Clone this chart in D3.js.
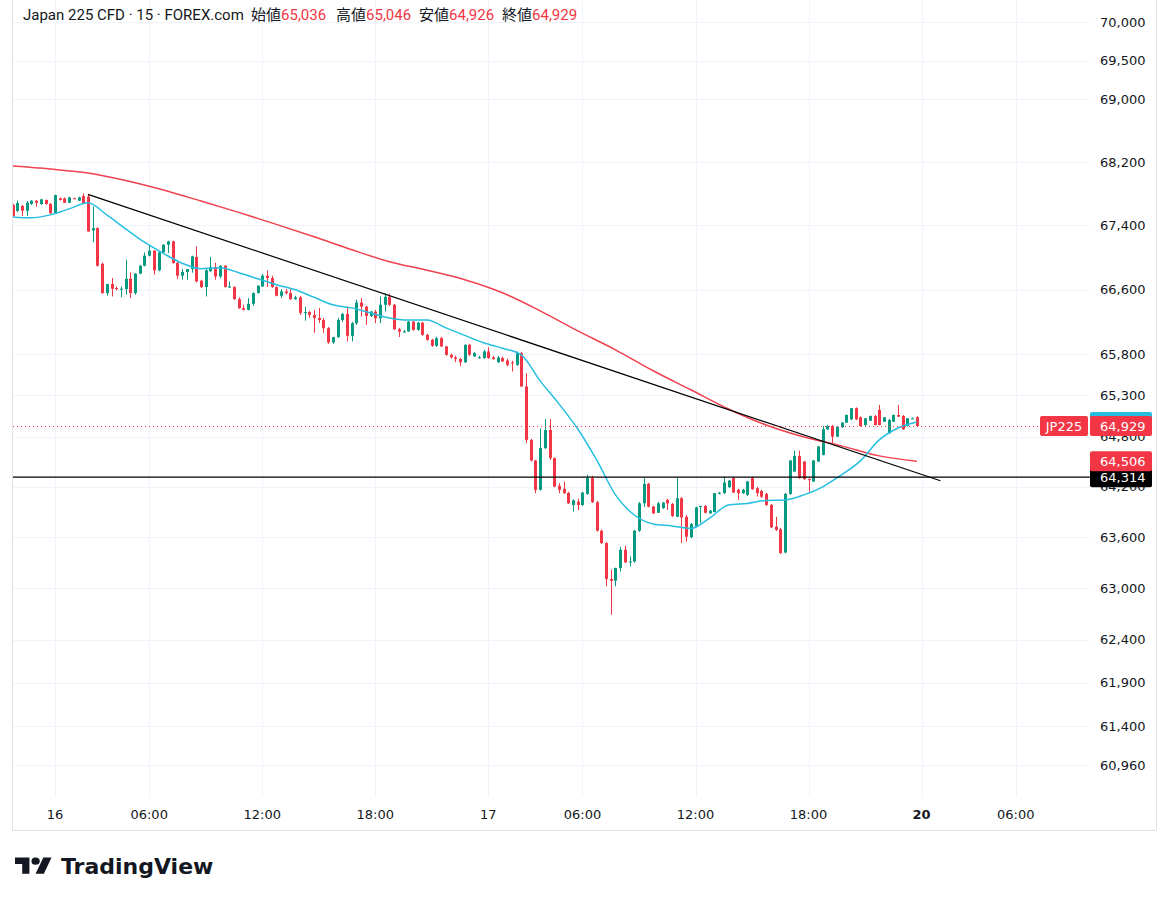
<!doctype html>
<html lang="ja">
<head>
<meta charset="utf-8">
<title>Japan 225 CFD · 15 · FOREX.com</title>
<script src="https://d3js.org/d3.v7.min.js"></script>
<style>
  body { margin: 0; padding: 0; background: #ffffff; }
  svg { display: block; }
</style>
</head>
<body>
<svg id="chart" width="1169" height="906"></svg>
<script>
// 15分足 (始値, 高値, 安値, 終値)
const ohlc = [
  [67656,67669,67507,67519],[67582,67712,67569,67681],[67644,67656,67519,67585],[67585,67706,67519,67685],
  [67669,67719,67656,67710],[67710,67719,67635,67685],[67669,67735,67656,67727],[67719,67725,67663,67669],
  [67669,67681,67544,67553],[67553,67787,67544,67781],[67740,67750,67712,67719],[67740,67750,67681,67685],
  [67685,67760,67681,67752],[67740,67750,67731,67736],[67710,67762,67706,67752],[67769,67802,67669,67678],
  [67762,67790,67320,67324],[67336,67635,67187,67366],[67366,67376,66884,66896],[66921,66934,66547,66556],
  [66556,66672,66523,66668],[66668,66743,66514,66610],[66618,66638,66589,66606],[66604,66638,66506,66610],
  [66606,66971,66535,66734],[66734,66813,66494,66556],[66556,66803,66535,66797],[66797,66903,66791,66896],
  [66896,67062,66888,67021],[67021,67146,67012,67083],[67083,67090,66784,66838],[66838,67075,66826,67062],
  [67062,67164,67058,67158],[67158,67208,67055,67199],[67199,67208,66921,66930],[66930,66946,66731,66772],
  [66772,66855,66722,66818],[66818,66855,66722,66855],[66855,67021,66809,67012],[67005,67137,66690,66701],
  [66709,66722,66618,66631],[66631,66868,66514,66838],[66826,67005,66822,66880],[66880,66934,66722,66763],
  [66763,66903,66741,66896],[66896,66903,66625,66631],[66631,66701,66618,66638],[66631,66641,66473,66481],
  [66481,66504,66363,66369],[66369,66411,66340,66348],[66348,66494,66342,66423],[66423,66566,66398,66556],
  [66556,66653,66553,66647],[66638,66793,66635,66772],[66772,66838,66631,66743],[66743,66772,66622,66631],
  [66631,66641,66516,66523],[66523,66606,66494,66576],[66576,66610,66541,66556],[66556,66618,66473,66481],
  [66481,66523,66473,66504],[66504,66523,66286,66311],[66311,66389,66215,66323],[66323,66336,66249,66286],
  [66286,66348,66065,66249],[66249,66373,66187,66224],[66224,66249,66065,66123],[66123,66138,65931,65947],
  [65947,66016,65931,66013],[66013,66249,66004,66224],[66224,66311,66200,66299],[66299,66389,65959,66029],
  [66029,66200,65959,66184],[66184,66473,66163,66439],[66439,66494,66265,66389],[66389,66398,66163,66274],
  [66274,66336,66261,66327],[66327,66348,66184,66245],[66245,66514,66184,66411],[66411,66554,66327,66510],
  [66510,66548,66398,66411],[66411,66423,66102,66110],[66110,66126,66013,66081],[66077,66102,66065,66083],
  [66083,66212,66077,66203],[66203,66212,66090,66102],[66102,66200,66090,66191],[66191,66200,66029,66041],
  [66041,66053,65967,65980],[65980,65992,65894,65906],[65906,66016,65894,66000],[66000,66016,65894,65898],
  [65898,65906,65784,65796],[65796,65809,65754,65763],[65763,65784,65705,65744],[65744,65760,65656,65705],
  [65705,65925,65696,65918],[65918,65931,65784,65796],[65776,65833,65772,65817],[65760,65784,65747,65766],
  [65756,65858,65747,65837],[65837,65888,65747,65756],[65763,65784,65735,65744],[65705,65784,65696,65763],
  [65756,65772,65711,65714],[65726,65747,65652,65673],[65702,65723,65592,65692],[65673,65837,65661,65817],
  [65817,65833,65405,65409],[65409,65572,64723,64762],[64762,64774,64504,64514],[64514,64522,64123,64163],
  [64163,64902,64154,64663],[64663,65014,64654,64882],[64882,65014,64522,64543],[64543,64552,64193,64202],
  [64211,64243,64123,64163],[64175,64262,64115,64123],[64127,64139,63995,64003],[63983,64051,63903,64037],
  [64022,64055,63923,63983],[63983,64139,63971,64130],[64115,64343,64103,64303],[64303,64331,64007,64015],
  [64015,64031,63668,63677],[63677,63692,63521,63530],[63530,63545,63021,63107],[63107,63217,62689,63087],
  [63087,63240,63021,63236],[63236,63486,63193,63451],[63451,63498,63299,63302],[63304,63373,63255,63314],
  [63314,63686,63299,63677],[63677,64019,63662,64002],[64002,64303,63959,64235],[64235,64247,63953,63963],
  [63963,63971,63875,63883],[63890,64019,63887,64002],[63947,64019,63935,64011],[64043,64055,63923,64002],
  [63995,64007,63839,63851],[63842,64303,63839,64063],[64063,64079,63530,63835],[63842,63862,63548,63607],
  [63600,63768,63588,63756],[63724,63962,63721,63954],[63964,63971,63764,63971],[63971,63983,63881,63890],
  [63883,63923,63875,63915],[63899,64127,63895,64123],[64121,64139,64109,64127],[64123,64322,64115,64250],
  [64195,64283,64187,64274],[64303,64319,64127,64130],[64163,64175,64043,64123],[64123,64175,64115,64163],
  [64103,64271,64091,64262],[64303,64322,64163,64171],[64183,64199,64082,64123],[64150,64163,64067,64082],
  [64115,64127,63971,63983],[63983,63995,63709,63717],[63724,63842,63674,63686],[63694,63709,63404,63412],
  [63419,64127,63410,64115],[64115,64522,64103,64514],[64382,64634,64378,64570],[64570,64634,64295,64303],
  [64502,64510,64283,64291],[64291,64301,64142,64283],[64262,64522,64259,64514],[64502,64690,64498,64682],
  [64582,64930,64576,64890],[64890,64942,64882,64930],[64930,64942,64723,64802],[64802,64930,64798,64922],
  [64914,64978,64906,64970],[64970,65069,64966,65063],[65011,65149,65002,65145],[65145,65155,65002,65011],
  [65035,65045,64924,64930],[64942,65026,64930,65023],[64994,65057,64990,65051],[65051,65063,64936,64942],
  [65124,65185,64936,64942],[64982,65039,64978,65035],[64843,65014,64834,65002],[64982,65069,64978,65063],
  [65063,65185,65039,65043],[65051,65063,64882,64890],[64930,65026,64924,65023],[65020,65033,65014,65023],
  [65036,65046,64926,64929]
];

// 短期移動平均 (水色) 4本ごと
const fastMaIndex = d3.range(0, 193, 4);
const fastMa = [
  67507,67495,67532,67607,67685,67532,67357,67189,67050,66927,66859,66871,66809,
  66734,66660,66597,66504,66411,66373,66311,66249,66224,66224,66126,66034,65943,
  65876,65796,65478,65198,64894,64522,64103,63863,63756,63733,63703,63827,63983,
  64001,64037,64043,64103,64199,64343,64510,64762,64906,64978
];

// 長期移動平均 (赤) 8本ごと
const slowMaIndex = d3.range(0, 193, 8);
const slowMa = [
  68149,68111,68060,67965,67845,67706,67563,67413,67258,67096,66946,66840,66722,
  66560,66336,66090,65857,65601,65369,65136,64942,64798,64690,64570,64506
];

const priceTicks = [70000, 69500, 69000, 68200, 67400, 66600, 65800, 65300, 64800, 64200,
                    63600, 63000, 62400, 61900, 61400, 60960];
const timeTicks = [9, 29, 53, 77, 101, 121, 145, 169, 193, 213];
const timeLabels = ["16", "06:00", "12:00", "18:00", "17", "06:00", "12:00", "18:00", "20", "06:00"];
const boldTime = ["20"];

const trendLine = [[16, 67790], [197, 64271]];
const levelLine = 64314;
const lastPrice = 64929;
const headerNames = ["始値", "高値", "安値", "終値"];
const headerValues = ["65,036", "65,046", "64,926", "64,929"];

const UP = "#089981", DOWN = "#f23645", TEXT = "#131722", GRID = "#f0f3fa", BORDER = "#e0e3eb";
const axisFont = "'DejaVu Sans', Verdana, sans-serif";
const plot = { left: 13, right: 1090, top: 0, bottom: 797 };

const svg = d3.select("#chart");
svg.append("rect").attr("width", 1169).attr("height", 906).attr("fill", "#fff");

const x = d3.scaleLinear().domain([0, ohlc.length - 1]).range([12.6, 916.9]);
const y = d3.scaleLog().domain([60960, 70000]).range([765, 22]);
const fmt = d3.format(",");

// グリッド
svg.append("g").selectAll("line").data(priceTicks).join("line")
  .attr("x1", plot.left).attr("x2", plot.right)
  .attr("y1", d => Math.round(y(d)) + 0.5).attr("y2", d => Math.round(y(d)) + 0.5)
  .attr("stroke", GRID);
svg.append("g").selectAll("line").data(timeTicks).join("line")
  .attr("x1", d => Math.round(x(d)) + 0.5).attr("x2", d => Math.round(x(d)) + 0.5)
  .attr("y1", plot.top).attr("y2", plot.bottom)
  .attr("stroke", GRID);

// 枠
svg.append("path")
  .attr("d", "M12.5,-2V830.5H1156.5V-2")
  .attr("fill", "none").attr("stroke", BORDER);

svg.append("clipPath").attr("id", "clip").append("rect")
  .attr("x", plot.left).attr("y", plot.top)
  .attr("width", plot.right - plot.left).attr("height", plot.bottom - plot.top);

const g = svg.append("g").attr("clip-path", "url(#clip)");

// ローソク足
const color = d => d[3] >= d[0] ? UP : DOWN;
g.append("g").selectAll("line").data(ohlc).join("line")
  .attr("x1", (d, i) => Math.round(x(i)) + 0.5).attr("x2", (d, i) => Math.round(x(i)) + 0.5)
  .attr("y1", d => y(d[1])).attr("y2", d => y(d[2]))
  .attr("stroke", color);
g.append("g").selectAll("rect").data(ohlc).join("rect")
  .attr("x", (d, i) => Math.round(x(i)) - 1)
  .attr("width", 3)
  .attr("y", d => y(Math.max(d[0], d[3])))
  .attr("height", d => Math.max(1, Math.abs(y(d[0]) - y(d[3]))))
  .attr("fill", color);

// 移動平均
const line = d3.line().x(d => x(d[0])).y(d => y(d[1])).curve(d3.curveMonotoneX);
g.append("path").datum(d3.zip(slowMaIndex, slowMa)).attr("d", line)
  .attr("fill", "none").attr("stroke", "#f0414f").attr("stroke-width", 1.5);
g.append("path").datum(d3.zip(fastMaIndex, fastMa)).attr("d", line)
  .attr("fill", "none").attr("stroke", "#26bfe0").attr("stroke-width", 1.5);

// トレンドライン・水平線
g.append("line")
  .attr("x1", x(trendLine[0][0])).attr("y1", y(trendLine[0][1]))
  .attr("x2", x(trendLine[1][0])).attr("y2", y(trendLine[1][1]))
  .attr("stroke", "#000").attr("stroke-width", 1.2);
svg.append("line")
  .attr("x1", plot.left).attr("x2", plot.right)
  .attr("y1", y(levelLine)).attr("y2", y(levelLine))
  .attr("stroke", "#000").attr("stroke-width", 1.3);
svg.append("line")
  .attr("x1", plot.left).attr("x2", 1040)
  .attr("y1", Math.round(y(lastPrice)) + 0.5).attr("y2", Math.round(y(lastPrice)) + 0.5)
  .attr("stroke", DOWN).attr("stroke-dasharray", "1,3");

// 価格軸
svg.append("g").selectAll("text").data(priceTicks).join("text")
  .attr("x", 1100).attr("y", d => y(d))
  .attr("dy", "0.35em")
  .attr("font-family", axisFont).attr("font-size", 13).attr("fill", TEXT)
  .text(d => fmt(d));

// 時間軸
svg.append("g").selectAll("text").data(timeTicks).join("text")
  .attr("x", d => x(d)).attr("y", 819)
  .attr("text-anchor", "middle")
  .attr("font-family", axisFont).attr("font-size", 13).attr("fill", TEXT)
  .attr("font-weight", (d, i) => boldTime.includes(timeLabels[i]) ? "bold" : "normal")
  .text((d, i) => timeLabels[i]);

// 価格ラベル
function priceLabel(value, fill, txt) {
  const cy = y(value);
  svg.append("rect").attr("x", 1090).attr("y", cy - 10).attr("width", 62).attr("height", 20)
    .attr("rx", 2).attr("fill", fill);
  svg.append("text").attr("x", 1100).attr("y", cy).attr("dy", "0.35em")
    .attr("font-family", axisFont).attr("font-size", 13).attr("fill", "#fff")
    .text(txt);
}
priceLabel(fastMa[fastMa.length - 1], "#26bfe0", fmt(fastMa[fastMa.length - 1]));
priceLabel(lastPrice, DOWN, fmt(lastPrice));
priceLabel(levelLine, "#000", fmt(levelLine));
priceLabel(slowMa[slowMa.length - 1], DOWN, fmt(slowMa[slowMa.length - 1]));

svg.append("rect").attr("x", 1040).attr("y", y(lastPrice) - 10).attr("width", 48).attr("height", 20)
  .attr("rx", 2).attr("fill", DOWN);
svg.append("text").attr("x", 1064).attr("y", y(lastPrice)).attr("dy", "0.35em")
  .attr("text-anchor", "middle")
  .attr("font-family", axisFont).attr("font-size", 13).attr("fill", "#fff")
  .text("JP225");

// ヘッダー
const headerFont = "Roboto, 'Noto Sans CJK JP', sans-serif";
svg.append("text").attr("x", 23).attr("y", 20)
  .attr("font-family", headerFont).attr("font-size", 15).attr("fill", TEXT)
  .text("Japan 225 CFD · 15 · FOREX.com");
const headerX = [251, 336, 419, 502];
headerNames.forEach((name, i) => {
  const t = svg.append("text").attr("x", headerX[i]).attr("y", 20)
    .attr("font-family", headerFont).attr("font-size", 15);
  t.append("tspan").attr("fill", TEXT).text(name);
  t.append("tspan").attr("fill", DOWN).text(headerValues[i]);
});

// ロゴ
const logo = svg.append("g").attr("transform", "translate(15,854) scale(1.03,0.9)").attr("fill", TEXT);
logo.append("path").attr("d", "M14 22H7V11H0V4h14v18zM28 22h-8l7.5-18h8L28 22z");
logo.append("circle").attr("cx", 20).attr("cy", 8).attr("r", 4);
svg.append("text").attr("x", 61).attr("y", 874)
  .attr("font-family", "'DejaVu Sans', sans-serif").attr("font-weight", "bold")
  .attr("font-size", 22).attr("fill", TEXT)
  .text("TradingView");
</script>
</body>
</html>
